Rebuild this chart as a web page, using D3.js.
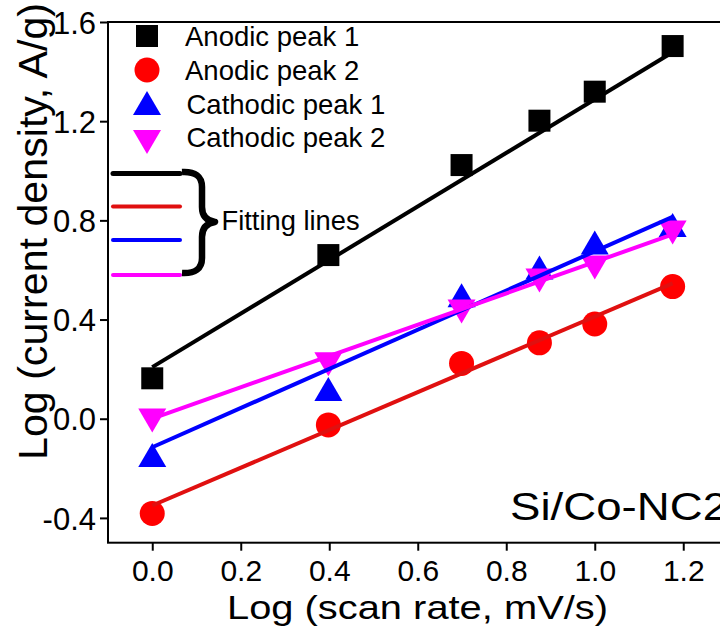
<!DOCTYPE html>
<html>
<head>
<meta charset="utf-8">
<script src="https://cdn.jsdelivr.net/npm/d3@7"></script>
<style>
  html, body { margin: 0; padding: 0; background: #fff; overflow: hidden; }
  text { font-family: "Liberation Sans", Arial, Helvetica, sans-serif; fill: #000; }
</style>
</head>
<body>
<svg id="chart" width="720" height="631"></svg>
<script>
// log10 of scan rates 1, 2.5, 5, 7.5, 10, 15 mV/s
const logRate = [0, 0.398, 0.699, 0.875, 1.0, 1.176];

// log of peak current density (A/g)
const anodic1   = [0.163, 0.66, 1.023, 1.202, 1.319, 1.503];
const anodic2   = [-0.382, -0.025, 0.223, 0.306, 0.382, 0.533];
const cathodic1 = [-0.146, 0.12, 0.498, 0.61, 0.711, 0.781];
const cathodic2 = [-0.007, 0.22, 0.432, 0.557, 0.61, 0.751];

// linear fits: y = intercept + slope * x
const seriesNames   = ["Anodic peak 1", "Anodic peak 2", "Cathodic peak 1", "Cathodic peak 2"];
const fitIntercepts = [0.208, -0.35, -0.115, 0.0];
const fitSlopes     = [1.08, 0.762, 0.79, 0.632];

const xTicks = [0.0, 0.2, 0.4, 0.6, 0.8, 1.0, 1.2];
const yTicks = [-0.4, 0.0, 0.4, 0.8, 1.2, 1.6];

const colors     = ["#000000", "#ff0000", "#0000ff", "#ff00ff"];
const lineColors = ["#000000", "#e01010", "#0000ff", "#ff00ff"];
const shapes     = ["square", "circle", "up", "down"];

const svg = d3.select("#chart");

const plotL = 108, plotR = 727.5, plotT = 22, plotB = 542.7;
const x = d3.scaleLinear().domain([-0.1, 1.3]).range([plotL, plotR]);
const y = d3.scaleLinear().domain([-0.5, 1.6]).range([plotB, plotT]);

// marker path generator centred on (0,0)
function markerPath(shape) {
  if (shape === "square") return d3.symbol(d3.symbolSquare, 22 * 22)();
  if (shape === "circle") return d3.symbol(d3.symbolCircle, Math.PI * 12.5 * 12.5)();
  const w = 28, h = 24;
  if (shape === "up")   return `M0,${-h / 2}L${w / 2},${h / 2}L${-w / 2},${h / 2}Z`;
  return `M0,${h / 2}L${w / 2},${-h / 2}L${-w / 2},${-h / 2}Z`;
}

// frame
svg.append("rect")
  .attr("x", plotL).attr("y", plotT)
  .attr("width", plotR - plotL).attr("height", plotB - plotT)
  .attr("fill", "none").attr("stroke", "#000").attr("stroke-width", 2);

// axes
const fmt = d => d.toFixed(1);
const gx = svg.append("g").attr("transform", `translate(0,${plotB})`)
  .call(d3.axisBottom(x).tickValues(xTicks).tickSize(8).tickFormat(fmt));
gx.select(".domain").remove();
gx.selectAll(".tick line").attr("stroke", "#000").attr("stroke-width", 2);
gx.selectAll(".tick text")
  .attr("y", 38.5).attr("dy", 0)
  .attr("font-size", 30).attr("font-family", null).attr("fill", "#000");

const gy = svg.append("g").attr("transform", `translate(${plotL},0)`)
  .call(d3.axisLeft(y).tickValues(yTicks).tickSize(8).tickFormat(fmt));
gy.select(".domain").remove();
gy.selectAll(".tick line").attr("stroke", "#000").attr("stroke-width", 2);
gy.selectAll(".tick text")
  .attr("x", -12).attr("dy", "0.36em")
  .attr("font-size", 31).attr("font-family", null).attr("fill", "#000");

// axis titles
svg.append("text")
  .attr("x", 227).attr("y", 619)
  .attr("font-size", 34)
  .attr("textLength", 381).attr("lengthAdjust", "spacingAndGlyphs")
  .text("Log (scan rate, mV/s)");

svg.append("text")
  .attr("transform", "translate(47,460) rotate(-90)")
  .attr("font-size", 40)
  .attr("textLength", 457).attr("lengthAdjust", "spacingAndGlyphs")
  .text("Log (current density, A/g)");

// data markers
const allSeries = [anodic1, anodic2, cathodic1, cathodic2];
allSeries.forEach((vals, i) => {
  svg.append("g").selectAll("path")
    .data(vals.map((v, j) => [logRate[j], v]))
    .join("path")
    .attr("d", markerPath(shapes[i]))
    .attr("transform", d => `translate(${x(d[0])},${y(d[1])})`)
    .attr("fill", colors[i]);
});

// fitted lines
const xFit = d3.extent(logRate);
const line = d3.line().x(d => x(d[0])).y(d => y(d[1]));
fitIntercepts.forEach((b, i) => {
  svg.append("path")
    .datum(xFit.map(xv => [xv, b + fitSlopes[i] * xv]))
    .attr("d", line)
    .attr("fill", "none")
    .attr("stroke", lineColors[i])
    .attr("stroke-width", 4);
});

// legend: symbols
const legendRows = [36, 70, 103, 142];
const legendBase = [45.5, 80, 113.5, 147];
seriesNames.forEach((name, i) => {
  svg.append("path")
    .attr("d", markerPath(shapes[i]))
    .attr("transform", `translate(147,${legendRows[i]})`)
    .attr("fill", colors[i]);
  svg.append("text")
    .attr("x", i < 2 ? 185 : 186.5).attr("y", legendBase[i])
    .attr("font-size", 27.5)
    .text(name);
});

// legend: fitting line samples with a brace
const lineRows = [173.5, 206.5, 240, 275];
lineColors.forEach((c, i) => {
  svg.append("line")
    .attr("x1", 113).attr("x2", 180)
    .attr("y1", lineRows[i]).attr("y2", lineRows[i])
    .attr("stroke", c).attr("stroke-width", i === 0 ? 5 : 4)
    .attr("stroke-linecap", "round");
});
svg.append("path")
  .attr("d", "M182,172 Q202,171 202,187 L202,207 Q202,220 215,222 Q202,224 202,237 L202,258 Q202,274 182,273")
  .attr("fill", "none").attr("stroke", "#000").attr("stroke-width", 6.5)
  .attr("stroke-linejoin", "round");
svg.append("text")
  .attr("x", 221.5).attr("y", 230)
  .attr("font-size", 27.3)
  .text("Fitting lines");

// sample label
svg.append("text")
  .attr("x", 510).attr("y", 520)
  .attr("font-size", 39)
  .attr("textLength", 218).attr("lengthAdjust", "spacingAndGlyphs")
  .text("Si/Co-NC2");
</script>
</body>
</html>
